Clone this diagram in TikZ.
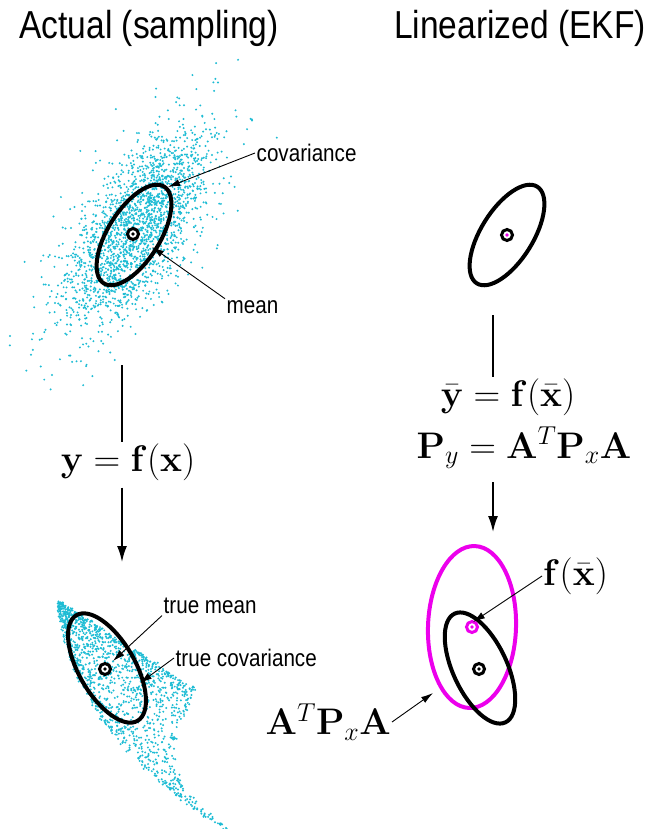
\RequirePackage{fix-cm}
\documentclass[tikz,border=0pt]{standalone}
\usepackage[no-math]{fontspec}
\usepackage{tikz}
\usetikzlibrary{arrows.meta, positioning}
\newfontfamily\narrowsans{Liberation Sans}[FakeStretch=0.86]
\definecolor{cloudcyan}{RGB}{30,188,212}
\definecolor{ekfmag}{RGB}{236,0,236}

\begin{document}
\begin{tikzpicture}[x=1pt, y=-1pt,
    title/.style={font=\narrowsans\fontsize{39}{45}\selectfont, inner sep=0pt},
    lbl/.style={font=\narrowsans\fontsize{24}{28}\selectfont, inner sep=1.5pt},
    eq/.style={font=\fontsize{37}{44}\selectfont, inner sep=1pt},
    cov/.style={line width=4pt},
    meanring/.style={circle, draw, line width=3pt, minimum size=11pt, inner sep=0pt, fill=white},
    pointer/.style={-{Latex[length=12pt, width=7pt]}, line width=0.9pt},
    flow/.style={line width=1.8pt},
    flowarr/.style={-{Latex[length=16pt, width=10pt]}, line width=1.8pt},
    sample/.style={fill=cloudcyan},
]
\useasboundingbox (0,0) rectangle (658,829);

% sampled clouds
\pgfmathsetseed{7}
\foreach \i in {1,...,2200}{
  \pgfmathsetmacro\rr{sqrt(-2*ln(0.0005+0.999*rnd))}
  \pgfmathsetmacro\aa{360*rnd}
  \pgfmathsetmacro\ga{\rr*cos(\aa)}
  \pgfmathsetmacro\gb{\rr*sin(\aa)}
  \fill[sample] ({137+\ga*57*0.53+\gb*25*0.848},{228-\ga*57*0.848+\gb*25*0.53}) circle (1.1);
}
\foreach \i in {1,...,1600}{
  \pgfmathsetmacro\rr{sqrt(-2*ln(0.0005+0.999*rnd))}
  \pgfmathsetmacro\aa{360*rnd}
  \pgfmathsetmacro\tt{abs(\rr*cos(\aa))^2.4}
  \pgfmathsetmacro\ss{2.7*rnd^1.7*exp(-0.3*\tt)}
  \fill[sample] ({57+14.5*\tt+3.5*\tt*\tt+50*\ss+4*rnd},{600+72*\tt^0.7+32*\ss+4*rnd}) circle (1.1);
}

% titles
\node[title] (lefttitle) at (149,28) {Actual (sampling)};
\node[title] (righttitle) at (520,28) {Linearized (EKF)};

% covariance ellipses
\draw[cov, rotate around={58:(134,235)}] (134,235) ellipse [x radius=57, y radius=26];
\draw[cov, rotate around={58:(507,235)}] (507,235) ellipse [x radius=57, y radius=26];
\draw[cov, rotate around={-60:(107,668)}] (107,668) ellipse [x radius=61, y radius=28];
\draw[cov, ekfmag, rotate around={-2:(472,627)}] (472,627) ellipse [x radius=44, y radius=81];
\draw[cov, rotate around={-65:(480,668)}] (480,668) ellipse [x radius=60, y radius=27];

% means
\node[meanring] (m1) at (133,234) {};
\fill (m1) circle (1.8);
\node[meanring] (m2) at (507,235) {};
\fill[ekfmag] (m2) circle (1.8);
\node[meanring] (m3) at (105,669) {};
\fill (m3) circle (1.8);
\node[meanring] (m4) at (479,669) {};
\fill (m4) circle (1.8);
\node[meanring, draw=ekfmag] (m5) at (472,627) {};
\fill[ekfmag] (m5) circle (1.8);

% labels
\node[lbl, anchor=west] (covlbl) at (255,153) {covariance};
\node[lbl, anchor=west] (meanlbl) at (225,307) {mean};
\node[lbl, anchor=west] (tmlbl) at (162,606) {true mean};
\node[lbl, anchor=west] (tclbl) at (174,658) {true covariance};
\node[eq, anchor=west] (fxlbl) at (542,576) {$\mathbf{f}(\bar{\mathbf{x}})$};
\node[eq, anchor=east] (apalbl) at (392,722) {$\mathbf{A}^T\mathbf{P}_x\mathbf{A}$};

\coordinate (covtip) at (168,187);
\coordinate (meantip) at (152,247);
\coordinate (tmtip) at (113,661);
\coordinate (tctip) at (140,683);
\coordinate (fxtip) at (473,622);
\coordinate (apatip) at (433,693);

\draw[pointer] (covlbl.west) -- (covtip);
\draw[pointer] (meanlbl.north west) -- (meantip);
\draw[pointer] (tmlbl.south west) -- (tmtip);
\draw[pointer] (tclbl.west) -- (tctip);
\draw[pointer] (fxlbl.west) -- (fxtip);
\draw[pointer] (apalbl.east) -- (apatip);

% mappings
\node[eq] (ymap) at (128,462) {$\mathbf{y}=\mathbf{f}(\mathbf{x})$};
\coordinate (ltop) at (122,365);
\coordinate (lbot) at (122,562);
\draw[flow] (ltop) -- (ltop |- ymap.north);
\draw[flowarr, shorten <=6pt] (ltop |- ymap.south) -- (lbot);

\node[eq] (ybar) at (508,397) {$\bar{\mathbf{y}}=\mathbf{f}(\bar{\mathbf{x}})$};
\node[eq] (pyeq) at (524,448) {$\mathbf{P}_y=\mathbf{A}^T\mathbf{P}_x\mathbf{A}$};
\coordinate (rtop) at (493,315);
\coordinate (rbot) at (493,532);
\draw[flow] (rtop) -- (rtop |- ybar.north);
\draw[flowarr, shorten <=12pt] (rtop |- pyeq.south) -- (rbot);
\end{tikzpicture}
\end{document}
